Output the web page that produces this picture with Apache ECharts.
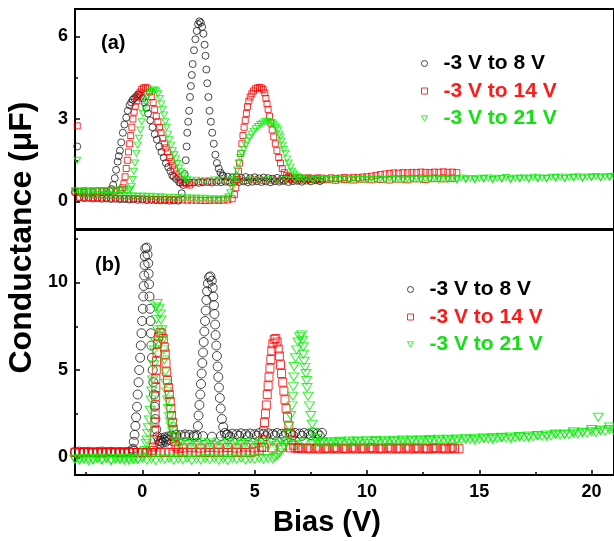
<!DOCTYPE html>
<html>
<head>
<meta charset="utf-8">
<script src="https://cdn.jsdelivr.net/npm/echarts@6/dist/echarts.min.js"></script>
<style>
  html, body { margin: 0; padding: 0; background: #fff; }
  #chart { width: 614px; height: 541px; }
</style>
</head>
<body>
<div id="chart"></div>
<script>
// Sweep legends and tick labels
const SWEEPS = ['-3 V to 8 V', '-3 V to 14 V', '-3 V to 21 V'];
const X_TICKS = [0, 5, 10, 15, 20];
const X_MINOR = [-2.5, 2.5, 7.5, 12.5, 17.5];
const YA_TICKS = [0, 3, 6];
const YA_MINOR = [1.5, 4.5];
const YB_TICKS = [0, 5, 10];
const YB_MINOR = [2.5, 7.5, 12.5];

// Flat stretches of a sweep are stored as [startBias, biasStep, values];
// peaks are stored as explicit [bias, conductance] pairs.

// ---------- Panel (a) ----------
// -3 V to 8 V
const a8Start = [[-2.9, 2.0]];
const a8FwdLow = [-2.8, 0.2, [0.14,0.12,0.13,0.11,0.12,0.10,0.11,0.09,0.10,0.08,0.09,0.07,0.08,0.06,0.07,0.05,0.06,0.05,0.04,0.05,0.03,0.04,0.03]];
const a8Peak2 = [[1.75,0.3],[1.82,0.6],[1.88,1.0],[1.93,1.5],[1.97,2.0],[2.0,2.5],[2.04,2.9],[2.08,3.3],[2.12,3.8],[2.16,4.2],[2.2,4.6],[2.24,5.0],[2.3,5.5],[2.36,5.9],[2.42,6.2],[2.48,6.45],[2.54,6.55],[2.6,6.5],[2.66,6.35],[2.72,6.1],[2.77,5.7],[2.81,5.3],[2.85,4.8],[2.89,4.3],[2.94,3.8],[2.99,3.3],[3.05,2.9],[3.11,2.5],[3.18,2.1],[3.25,1.7],[3.32,1.4],[3.4,1.2],[3.48,1.05],[3.56,0.95]];
const a8FwdHigh = [3.6, 0.2, [0.93,0.90,0.88,0.90,0.86,0.89,0.85,0.88,0.84,0.87,0.85,0.83,0.86,0.82,0.85,0.83,0.80,0.84,0.81,0.83,0.80,0.82,0.79]];
const a8RevHigh = [7.9, -0.2, [0.74,0.77,0.73,0.76,0.72,0.75,0.74,0.71,0.75,0.72,0.74,0.70,0.73,0.71,0.74,0.72,0.70,0.73,0.71,0.72,0.69,0.72,0.70,0.71,0.69,0.71,0.70,0.68,0.70,0.69,0.70,0.68]];
const a8Peak1 = [[1.64,0.7],[1.5,0.82],[1.4,0.9],[1.33,0.95],[1.25,1.1],[1.15,1.25],[1.05,1.4],[0.95,1.6],[0.85,1.8],[0.75,2.0],[0.65,2.25],[0.55,2.45],[0.45,2.7],[0.35,2.95],[0.25,3.2],[0.18,3.4],[0.1,3.6],[0.02,3.75],[-0.06,3.85],[-0.13,3.9],[-0.2,3.88],[-0.28,3.82],[-0.36,3.75],[-0.43,3.7],[-0.5,3.6],[-0.57,3.5],[-0.65,3.3],[-0.72,3.05],[-0.8,2.8],[-0.87,2.5],[-0.94,2.15],[-1.0,1.85],[-1.05,1.65],[-1.1,1.45],[-1.17,1.15],[-1.23,0.85],[-1.3,0.6],[-1.37,0.45],[-1.44,0.38]];
const a8RevLow = [-1.6, -0.2, [0.36,0.34,0.37,0.33,0.35,0.32,0.34,0.33]];

// -3 V to 14 V
const a14Start = [[-2.9, 2.75]];
const a14FwdLow = [-2.8, 0.2, [0.16,0.15,0.15,0.14,0.14,0.13,0.13,0.12,0.12,0.11,0.11,0.10,0.10,0.10,0.09,0.09,0.08,0.08,0.08,0.07,0.07,0.06,0.06,0.06,0.05,0.05,0.05,0.04,0.04,0.04,0.05,0.04,0.05,0.06,0.10]];
const a14Peak2 = [[4.1,0.25],[4.16,0.5],[4.22,0.8],[4.28,1.1],[4.33,1.4],[4.38,1.75],[4.43,2.1],[4.48,2.4],[4.53,2.7],[4.58,2.95],[4.63,3.2],[4.68,3.45],[4.74,3.65],[4.8,3.8],[4.87,3.92],[4.95,4.02],[5.03,4.1],[5.12,4.13],[5.21,4.15],[5.3,4.13],[5.38,4.07],[5.45,3.95],[5.5,3.75],[5.55,3.55],[5.6,3.35],[5.66,3.1],[5.72,2.85],[5.78,2.6],[5.85,2.35],[5.92,2.1],[5.99,1.85],[6.07,1.6],[6.15,1.4],[6.23,1.2],[6.32,1.05],[6.42,0.95],[6.52,0.9]];
const a14FwdHigh = [6.6, 0.2, [0.88,0.86,0.87,0.85,0.86,0.84,0.86,0.85,0.83,0.86,0.84,0.85,0.87,0.85,0.88,0.86,0.89,0.90,0.92,0.95,0.98,1.00,1.02,1.04,1.03,1.05,1.04,1.06,1.05,1.07,1.06,1.05,1.07,1.06,1.08,1.06,1.07,1.05]];
const a14RevHigh = [13.8, -0.4, [0.84,0.82,0.83,0.80,0.82,0.79,0.81,0.78,0.80,0.79,0.81,0.78,0.80,0.77,0.79,0.78,0.80,0.77,0.79,0.76,0.78,0.77,0.79,0.76,0.78,0.75,0.77,0.74,0.72,0.68]];
const a14Peak1 = [[2.1,0.6],[1.95,0.65],[1.8,0.7],[1.7,0.78],[1.6,0.88],[1.5,1.0],[1.42,1.15],[1.35,1.3],[1.28,1.45],[1.2,1.6],[1.12,1.8],[1.05,1.95],[0.98,2.1],[0.9,2.3],[0.83,2.5],[0.76,2.7],[0.69,2.9],[0.62,3.1],[0.55,3.35],[0.48,3.6],[0.4,3.8],[0.32,3.98],[0.23,4.12],[0.14,4.15],[0.05,4.13],[-0.03,4.08],[-0.1,3.98],[-0.17,3.9],[-0.22,3.8],[-0.27,3.65],[-0.32,3.45],[-0.37,3.25],[-0.42,3.0],[-0.47,2.7],[-0.52,2.4],[-0.57,2.1],[-0.62,1.8],[-0.67,1.5],[-0.72,1.2],[-0.77,0.9],[-0.82,0.65],[-0.88,0.5],[-0.95,0.42]];
const a14RevLow = [-1.0, -0.2, [0.40,0.38,0.41,0.37,0.39,0.36,0.38,0.37,0.39,0.36,0.38]];

// -3 V to 21 V
const a21Start = [[-2.9, 1.5]];
const a21FwdLow = [-2.8, 0.2, [0.28,0.25,0.27,0.24,0.26,0.22,0.24,0.21,0.23,0.20,0.22,0.19,0.21,0.18,0.20,0.17,0.19,0.16,0.17,0.15,0.16,0.14,0.15,0.12,0.14,0.11,0.13,0.10,0.12,0.09,0.10,0.08,0.10,0.12]];
const a21Peak2 = [[3.85,0.17],[3.92,0.32],[4.0,0.5],[4.07,0.7],[4.15,0.9],[4.22,1.15],[4.29,1.4],[4.36,1.6],[4.44,1.75],[4.51,1.9],[4.6,2.05],[4.68,2.2],[4.77,2.32],[4.86,2.45],[4.95,2.55],[5.05,2.65],[5.15,2.73],[5.25,2.8],[5.35,2.85],[5.45,2.9],[5.55,2.92],[5.65,2.9],[5.75,2.87],[5.83,2.82],[5.9,2.75],[5.97,2.68],[6.05,2.6],[6.1,2.45],[6.15,2.35],[6.2,2.2],[6.25,2.05],[6.3,1.9],[6.37,1.75],[6.44,1.55],[6.51,1.4],[6.59,1.25],[6.67,1.1],[6.75,1.0],[6.85,0.93],[6.95,0.88]];
const a21FwdHigh = [7.0, 0.2, [0.86,0.83,0.85,0.81,0.84,0.80,0.83,0.79,0.82,0.80,0.84,0.79,0.82,0.78,0.81,0.80,0.83,0.79,0.82,0.80,0.84,0.80,0.83,0.79,0.82,0.81,0.84,0.80,0.83,0.81,0.85,0.81,0.84,0.80,0.83,0.82,0.86,0.81,0.84,0.82,0.85,0.83,0.86,0.82,0.85,0.83,0.87,0.82,0.85,0.83,0.86,0.84,0.88,0.83,0.86,0.84,0.88,0.85,0.89,0.85,0.88,0.86,0.90,0.86,0.89,0.87,0.91,0.88,0.90,0.88,0.92]];
const a21RevHigh = [20.8, -0.4, [0.90,0.86,0.89,0.85,0.88,0.84,0.87,0.83,0.86,0.82,0.85,0.81,0.84,0.80,0.83,0.79,0.82,0.78,0.81,0.79,0.82,0.78,0.81,0.77,0.80,0.78,0.81,0.77,0.80,0.76,0.79,0.77,0.80,0.76,0.79,0.77,0.80,0.76,0.79,0.77,0.78,0.76,0.79,0.77,0.78,0.76,0.77,0.78]];
const a21Peak1 = [[2.0,0.78],[1.9,0.85],[1.8,0.95],[1.72,1.08],[1.64,1.22],[1.56,1.38],[1.49,1.55],[1.42,1.7],[1.35,1.85],[1.28,2.05],[1.21,2.25],[1.14,2.45],[1.08,2.7],[1.02,2.9],[0.96,3.15],[0.9,3.35],[0.84,3.55],[0.77,3.75],[0.7,3.92],[0.62,4.02],[0.54,4.06],[0.45,4.05],[0.37,4.0],[0.29,3.92],[0.22,3.82],[0.15,3.65],[0.09,3.45],[0.03,3.2],[-0.03,2.9],[-0.09,2.6],[-0.15,2.3],[-0.21,2.05],[-0.27,1.75],[-0.33,1.4],[-0.38,1.1],[-0.43,0.8],[-0.48,0.55],[-0.54,0.45]];
const a21RevLow = [-0.6, -0.2, [0.42,0.40,0.43,0.39,0.41,0.38,0.40,0.37,0.39,0.36,0.38,0.37,0.39]];

// ---------- Panel (b) ----------
// -3 V to 8 V
const b8FwdLow = [-3.0, 0.2, [0.32,0.34,0.31,0.33,0.30,0.32,0.34,0.31,0.33,0.30,0.32,0.31,0.33,0.40]];
const b8Peak1 = [[-0.42,0.5],[-0.38,0.9],[-0.35,1.3],[-0.31,1.8],[-0.28,2.3],[-0.24,2.9],[-0.21,3.6],[-0.17,4.3],[-0.14,5.0],[-0.1,5.7],[-0.07,6.4],[-0.04,7.1],[-0.01,7.8],[0.02,8.5],[0.04,9.2],[0.06,9.8],[0.08,10.4],[0.1,11.0],[0.11,11.5],[0.13,11.95],[0.2,12.0],[0.23,11.6],[0.26,11.1],[0.28,10.5],[0.3,9.9],[0.32,9.2],[0.34,8.5],[0.36,7.8],[0.38,7.1],[0.4,6.4],[0.43,5.7],[0.46,5.0],[0.49,4.3],[0.52,3.6],[0.55,2.9],[0.58,2.2],[0.62,1.6],[0.67,1.2],[0.73,0.95]];
const b8Cluster = [[0.78,0.8],[0.82,0.95],[0.86,1.1],[0.9,0.85],[0.95,1.0],[1.0,1.15],[1.05,0.9],[1.1,1.05],[1.15,1.2],[1.2,1.0]];
const b8Mid = [1.3, 0.2, [1.25,1.30,1.28,1.32,1.30,1.27]];
const b8Peak2 = [[2.42,1.25],[2.47,1.8],[2.5,2.4],[2.54,3.0],[2.58,3.6],[2.61,4.2],[2.64,4.8],[2.67,5.4],[2.7,6.0],[2.73,6.6],[2.76,7.2],[2.79,7.8],[2.82,8.4],[2.85,9.0],[2.88,9.5],[2.92,9.95],[2.97,10.3],[3.03,10.35],[3.09,10.1],[3.13,9.7],[3.16,9.2],[3.19,8.7],[3.21,8.2],[3.24,7.6],[3.26,7.0],[3.29,6.4],[3.32,5.8],[3.35,5.2],[3.38,4.6],[3.41,4.0],[3.45,3.4],[3.49,2.8],[3.54,2.2],[3.6,1.75],[3.67,1.4],[3.75,1.3]];
const b8FwdHigh = [3.8, 0.2, [1.32,1.36,1.33,1.38,1.34,1.37,1.33,1.39,1.35,1.38,1.34,1.40,1.36,1.39,1.35,1.41,1.37,1.40,1.36,1.42,1.38,1.41]];
const b8RevHigh = [7.9, -0.4, [1.25,1.28,1.24,1.27,1.23,1.26,1.22,1.25,1.21,1.24,1.20,1.23,1.19,1.22,1.18,1.20,1.17]];

// -3 V to 14 V
const b14FwdLow = [-3.0, 0.2, [0.30,0.28,0.31,0.29,0.30,0.27,0.30,0.28,0.31,0.29,0.30,0.28,0.31,0.29,0.30,0.28,0.31,0.29,0.30,0.28,0.31,0.29,0.30,0.28,0.31,0.29,0.30,0.28,0.31,0.29,0.30,0.28,0.31,0.29,0.30,0.28,0.31,0.29,0.30,0.28,0.33,0.42]];
const b14Peak2 = [[5.3,0.6],[5.35,1.0],[5.4,1.5],[5.44,2.0],[5.48,2.5],[5.52,3.0],[5.56,3.6],[5.6,4.1],[5.64,4.6],[5.68,5.1],[5.72,5.6],[5.76,6.1],[5.81,6.5],[5.87,6.75],[5.94,6.8],[6.0,6.6],[6.05,6.2],[6.1,5.8],[6.15,5.3],[6.2,4.8],[6.25,4.3],[6.3,3.8],[6.35,3.3],[6.4,2.8],[6.46,2.3],[6.52,1.8],[6.58,1.4],[6.65,1.0],[6.72,0.7],[6.8,0.55]];
const b14FwdHigh = [6.9, 0.2, [0.52,0.50,0.53,0.49,0.52,0.48,0.51,0.49,0.52,0.48,0.51,0.49,0.52,0.48,0.51,0.49,0.52,0.48,0.51,0.49,0.52,0.48,0.51,0.49,0.52,0.48,0.51,0.49,0.52,0.48,0.51,0.49,0.52,0.48,0.51,0.49,0.50]];
const b14RevHigh = [13.8, -0.4, [0.58,0.55,0.57,0.54,0.56,0.59,0.55,0.58,0.54,0.57,0.55,0.58,0.54,0.57,0.55,0.59,0.54,0.57,0.55,0.58,0.54,0.57,0.55,0.59,0.54,0.57,0.55,0.58,0.54,0.56,0.55]];
const b14Peak1 = [[1.6,0.5],[1.5,0.62],[1.45,0.9],[1.42,1.2],[1.38,1.6],[1.34,2.0],[1.3,2.4],[1.27,2.8],[1.24,3.2],[1.2,3.6],[1.16,4.0],[1.12,4.4],[1.08,4.9],[1.05,5.4],[1.02,5.9],[0.98,6.3],[0.93,6.8],[0.86,7.1],[0.79,7.15],[0.72,6.9],[0.67,6.5],[0.65,6.0],[0.63,5.5],[0.62,5.0],[0.6,4.5],[0.6,4.0],[0.59,3.5],[0.58,3.0],[0.57,2.5],[0.56,2.0],[0.55,1.5],[0.53,1.0],[0.5,0.6],[0.45,0.4]];
const b14RevLow = [0.4, -0.2, [0.27,0.30,0.26,0.29,0.27,0.31,0.26,0.28,0.30,0.27,0.29,0.26,0.30,0.28,0.27,0.29,0.26,0.28]];

// -3 V to 21 V
const b21FwdLow = [-3.0, 0.2, [-0.08,-0.15,-0.05,-0.18,-0.10,-0.03,-0.14,-0.07,-0.17,-0.09,-0.04,-0.16,-0.06,-0.13,-0.10,-0.02,-0.15,-0.08,-0.18,-0.05,-0.11,-0.04,-0.16,-0.07,-0.13,-0.03,-0.17,-0.09,-0.14,-0.06,-0.12,-0.04,-0.15,-0.08,-0.17,-0.05,-0.11,-0.03,-0.14,-0.07,-0.12,-0.05,-0.10,-0.06,-0.08]];
const b21Rise = [[5.9,0.0],[6.0,0.1],[6.1,0.25],[6.2,0.45],[6.3,0.65],[6.4,0.9],[6.48,1.3]];
const b21Peak2 = [[6.52,1.8],[6.6,2.4],[6.66,2.95],[6.7,3.5],[6.72,4.05],[6.74,4.6],[6.76,5.2],[6.82,5.7],[6.87,6.15],[6.93,6.6],[7.0,6.9],[7.09,7.0],[7.13,6.7],[7.16,6.33],[7.17,5.9],[7.2,5.5],[7.24,5.15],[7.28,4.8],[7.31,4.4],[7.33,4.0],[7.38,3.5],[7.44,2.95],[7.5,2.4],[7.56,1.9],[7.63,1.45],[7.7,1.1]];
const b21FwdHigh = [7.8, 0.2, [0.86,0.90,0.84,0.92,0.87,0.93,0.88,0.95,0.90,0.94,0.89,0.96,0.91,0.97,0.92,0.98,0.93,0.99,0.94,1.00,0.95,1.01,0.96,1.02,0.97,1.03,0.98,1.04,0.99,1.05,1.00,1.06,1.01,1.08,1.03,1.10,1.05,1.12,1.07,1.14,1.09,1.16,1.11,1.18,1.13,1.20,1.15,1.23,1.18,1.26,1.21,1.29,1.24,1.32,1.27,1.35,1.30,1.39,1.34,1.43,1.38,1.48,1.43,1.53,1.49,1.60,1.56]];
const b21Spike = [[20.3, 2.3]];
const b21RevHigh = [20.8, -0.4, [1.74,1.58,1.60,1.44,1.47,1.31,1.34,1.21,1.26,1.13,1.19,1.07,1.14,1.02,1.09,0.98,1.05,0.94,1.01,0.91,0.98,0.88,0.96,0.85,0.93,0.83,0.91,0.81,0.89,0.79,0.87,0.77,0.86,0.76,0.84,0.75,0.82]];
const b21RevMid = [6.2, -0.2, [0.92,0.70,0.88,0.66,0.85,0.72,0.90,0.68,0.84,0.74,0.89,0.65,0.86,0.71,0.91,0.67,0.83,0.73,0.88,0.69,0.85,0.75,0.90,0.80]];
const b21Peak1 = [[1.5,0.9],[1.42,1.19],[1.35,1.5],[1.29,1.76],[1.24,2.05],[1.2,2.33],[1.16,2.8],[1.12,3.29],[1.08,3.75],[1.05,4.24],[1.02,4.9],[0.98,5.57],[0.94,6.15],[0.9,6.7],[0.86,7.3],[0.83,7.86],[0.79,8.2],[0.74,8.5],[0.66,8.8],[0.6,8.6],[0.63,7.9],[0.68,7.29],[0.58,6.6],[0.53,6.14],[0.5,5.3],[0.46,4.43],[0.42,3.8],[0.39,3.29],[0.35,2.7],[0.31,2.14],[0.27,1.7],[0.24,1.38],[0.2,1.0],[0.17,0.81],[0.12,0.4]];
const b21RevLow = [0.0, -0.2, [-0.02,-0.12,-0.05,-0.16,-0.03,-0.11,-0.06,-0.15,-0.02,-0.13,-0.07,-0.14,-0.04,-0.10,-0.08,-0.12]];

// Expand a fixed-step stretch into [bias, conductance] points
function run([v0, dv, ys]) {
  return ys.map((y, i) => [Math.round((v0 + i * dv) * 100) / 100, y]);
}

const panelA = [
  [...run(a8FwdLow), ...a8Peak2, ...run(a8FwdHigh), ...run(a8RevHigh), ...a8Peak1, ...run(a8RevLow), ...a8Start],
  [...run(a14FwdLow), ...a14Peak2, ...run(a14FwdHigh), ...run(a14RevHigh), ...a14Peak1, ...run(a14RevLow), ...a14Start],
  [...run(a21FwdLow), ...a21Peak2, ...run(a21FwdHigh), ...run(a21RevHigh), ...a21Peak1, ...run(a21RevLow), ...a21Start]
];
const panelB = [
  [...run(b8FwdLow), ...b8Peak1, ...b8Cluster, ...run(b8Mid), ...b8Peak2, ...run(b8FwdHigh), ...run(b8RevHigh)],
  [...run(b14FwdLow), ...b14Peak2, ...run(b14FwdHigh), ...run(b14RevHigh), ...b14Peak1, ...run(b14RevLow)],
  [...run(b21FwdLow), ...b21Rise, ...b21Peak2, ...run(b21FwdHigh), ...b21Spike, ...run(b21RevHigh), ...run(b21RevMid), ...b21Peak1, ...run(b21RevLow)]
];

const FONT = '"Liberation Sans", Arial, sans-serif';
const MARK_COLORS = ['#1a1a1a', '#ff0000', '#00f000'];
const TEXT_COLORS = ['#000000', '#ff1a1a', '#14e014'];
const SYMBOLS = ['circle', 'rect', 'triangle'];
const LEGEND_ICONS = ['circle', 'rect', 'path://M0,0L10,0L5,9Z'];
const SIZE_A = [7, 6, [7, 6]];
const SIZE_B = [9, 8, [10, 8]];

function scatter(panel, k, data, sizes) {
  return {
    type: 'scatter',
    name: SWEEPS[k],
    xAxisIndex: panel,
    yAxisIndex: panel,
    data: data,
    symbol: SYMBOLS[k],
    symbolSize: sizes[k],
    symbolRotate: k === 2 ? 180 : 0,
    itemStyle: { color: 'rgba(255,255,255,0)', borderColor: MARK_COLORS[k], borderWidth: 1 },
    silent: true,
    animation: false,
    z: 2 + k
  };
}

const tickLabel = { color: '#000', fontFamily: FONT, fontWeight: 'bold', fontSize: 18 };
const axisLine = { onZero: false, lineStyle: { color: '#000', width: 2 } };
const majorTick = (values) => ({ inside: true, length: 5, lineStyle: { color: '#000', width: 1.5 }, customValues: values });
const minorTick = (values) => ({ inside: true, length: 3, lineStyle: { color: '#000', width: 1.5 }, customValues: values });

const X_RANGE = { type: 'value', min: -3, max: 21, splitLine: { show: false } };
const YA_RANGE = { type: 'value', min: -1, max: 7, splitLine: { show: false } };
const YB_RANGE = { type: 'value', min: -1, max: 13, splitLine: { show: false } };

function legend(left, top) {
  return {
    orient: 'vertical', left: left, top: top, padding: 0,
    itemWidth: 6, itemHeight: 6, itemGap: 6.5,
    selectedMode: false,
    symbolRotate: 0,
    itemStyle: { borderWidth: 1 },
    textStyle: { fontFamily: FONT, fontWeight: 'bold', fontSize: 21, lineHeight: 21, padding: [0, 0, 0, 11] },
    data: SWEEPS.map((name, k) => ({ name: name, icon: LEGEND_ICONS[k], textStyle: { color: TEXT_COLORS[k] } }))
  };
}

const chart = echarts.init(document.getElementById('chart'), null, { renderer: 'canvas' });
chart.setOption({
  animation: false,
  backgroundColor: '#fff',
  grid: [
    { left: 75, top: 9, width: 543, height: 220, show: true, borderColor: '#000', borderWidth: 2 },
    { left: 75, top: 230, width: 543, height: 245, show: true, borderColor: '#000', borderWidth: 2 }
  ],
  xAxis: [
    { ...X_RANGE, gridIndex: 0, position: 'bottom', axisLine: axisLine, axisTick: { show: false }, axisLabel: { show: false } },
    { ...X_RANGE, gridIndex: 1, position: 'bottom', axisLine: axisLine, axisTick: majorTick(X_TICKS),
      axisLabel: { ...tickLabel, margin: 8, customValues: X_TICKS } },
    { ...X_RANGE, gridIndex: 1, position: 'bottom', axisLine: { show: false, onZero: false }, axisTick: minorTick(X_MINOR), axisLabel: { show: false } }
  ],
  yAxis: [
    { ...YA_RANGE, gridIndex: 0, position: 'left', axisLine: axisLine, axisTick: majorTick(YA_TICKS),
      axisLabel: { ...tickLabel, margin: 7, customValues: YA_TICKS } },
    { ...YB_RANGE, gridIndex: 1, position: 'left', axisLine: axisLine, axisTick: majorTick(YB_TICKS),
      axisLabel: { ...tickLabel, margin: 7, customValues: YB_TICKS } },
    { ...YA_RANGE, gridIndex: 0, position: 'left', axisLine: { show: false, onZero: false }, axisTick: minorTick(YA_MINOR), axisLabel: { show: false } },
    { ...YB_RANGE, gridIndex: 1, position: 'left', axisLine: { show: false, onZero: false }, axisTick: minorTick(YB_MINOR), axisLabel: { show: false } }
  ],
  legend: [legend(421, 53), legend(407, 279)],
  series: [
    ...panelA.map((d, k) => scatter(0, k, d, SIZE_A)),
    ...panelB.map((d, k) => scatter(1, k, d, SIZE_B))
  ],
  graphic: [
    { type: 'text', x: 22, y: 237.5, rotation: Math.PI / 2, silent: true,
      style: { text: 'Conductance (\u03bcF)', font: 'bold 32px ' + FONT, fill: '#000', align: 'center', verticalAlign: 'middle' } },
    { type: 'text', x: 327, y: 523, silent: true,
      style: { text: 'Bias (V)', font: 'bold 29px ' + FONT, fill: '#000', align: 'center', verticalAlign: 'middle' } },
    { type: 'text', x: 101, y: 43, silent: true,
      style: { text: '(a)', font: 'bold 20px ' + FONT, fill: '#000', align: 'left', verticalAlign: 'middle' } },
    { type: 'text', x: 95, y: 265, silent: true,
      style: { text: '(b)', font: 'bold 20px ' + FONT, fill: '#000', align: 'left', verticalAlign: 'middle' } }
  ]
});
</script>
</body>
</html>
